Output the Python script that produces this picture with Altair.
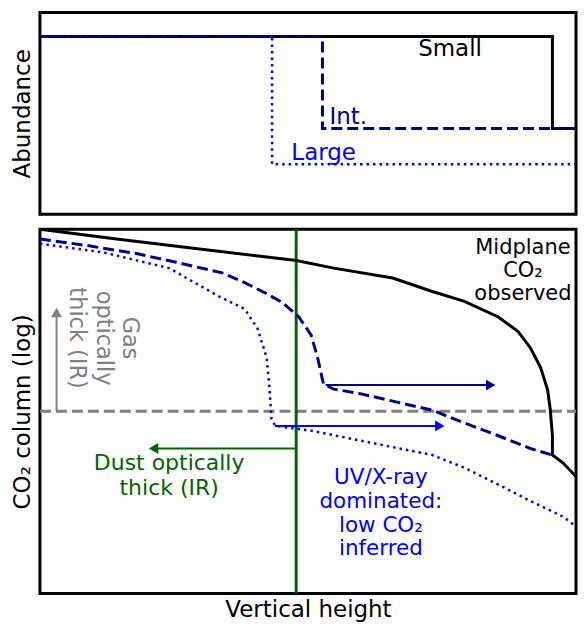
import altair as alt
import pandas as pd

FONT = "DejaVu Sans"
NAVY = "#00008B"
BLUE = "#0000FF"
GREEN = "#006400"
GRAY = "#808080"

# ---------------- top panel (Abundance) ----------------
top_small_x = [0, 95.6, 95.6, 100]
top_small_y = [88.1, 88.1, 42.5, 42.5]
top_int_x = [0, 52.7, 52.7, 100]
top_int_y = [88.1, 88.1, 42.5, 42.5]
top_large_x = [0, 43.3, 43.3, 100]
top_large_y = [88.1, 88.1, 24.8, 24.8]

top_label_text = ["Small", "Int.", "Large"]
top_label_x = [76.5, 54.0, 46.9]
top_label_y = [81.7, 48.0, 30.2]

# ---------------- bottom panel (CO2 column) ----------------
bot_small_x = [0, 14.3, 29.0, 47.8, 54.8, 65.8, 73.2, 79.2, 85.5, 89.2, 91.5,
               93.4, 94.7, 95.2, 95.6, 95.6, 97.6, 100]
bot_small_y = [100, 97.3, 94.7, 91.4, 89.3, 86.6, 82.9, 80.2, 75.9, 71.9, 67.4,
               62.0, 55.9, 50.5, 43.3, 38.0, 35.8, 32.1]
bot_int_x = [0, 8.8, 18.0, 25.4, 34.0, 38.2, 41.9, 45.2, 48.3, 50.6, 51.8, 52.6,
             52.9, 54.8, 59.9, 73.2, 79.2, 85.5, 91.5, 95.6]
bot_int_y = [97.3, 95.5, 93.3, 90.9, 88.0, 85.3, 82.6, 79.9, 75.9, 70.9, 64.7, 59.4,
             57.5, 56.1, 54.8, 50.3, 46.8, 43.3, 39.8, 38.0]
bot_large_x = [0, 11.9, 24.1, 33.3, 38.2, 40.6, 42.3, 42.8, 43.2, 43.9, 50.6, 59.7,
               73.2, 79.2, 85.5, 91.5, 97.6, 100]
bot_large_y = [96.0, 93.6, 89.3, 81.6, 78.1, 72.7, 64.7, 56.7, 47.9, 46.0, 44.7, 42.0,
               38.0, 34.5, 29.9, 25.4, 21.1, 18.4]

gas_threshold_y = 50.0
dust_height_x = 47.8

# arrows: (x_start, y_start, x_tip, y_tip)
arrow_gas = [3.1, 50.0, 3.1, 78.6]
arrow_dust = [47.8, 39.8, 20.2, 39.8]
arrow_int = [53.3, 57.2, 85.1, 57.2]
arrow_large = [43.8, 46.0, 75.6, 46.0]

bot_text = ["Midplane\nCO\u2082\nobserved",
            "Dust optically\nthick (IR)",
            "UV/X-ray\ndominated:\nlow CO\u2082\ninferred"]
bot_text_x = [90.1, 24.1, 63.6]
bot_text_y = [94.7, 35.8, 31.8]
bot_text_color = ["black", GREEN, BLUE]
bot_text_size = [21, 22, 21.5]
bot_text_lh = [23, 24.5, 24]

gas_text = "Gas\noptically\nthick (IR)"
gas_text_x = 16.8
gas_text_y = 70.1


def sc():
    return alt.Scale(domain=[0, 100], nice=False, zero=False)


AX = dict(labels=False, ticks=False, domain=False, grid=False)

X_top = alt.X("x:Q", scale=sc(), axis=None)
Y_top = alt.Y("y:Q", scale=sc(), axis=alt.Axis(title="Abundance", titlePadding=5, **AX))
X_bot = alt.X("x:Q", scale=sc(), axis=alt.Axis(title="Vertical height", titlePadding=5, **AX))
Y_bot = alt.Y("y:Q", scale=sc(), axis=alt.Axis(title="CO\u2082 column (log)", titlePadding=5, **AX))


def line(xs, ys, X, Y, color, width, dash=None):
    df = pd.DataFrame({"x": xs, "y": ys, "o": list(range(len(xs)))})
    kw = dict(color=color, strokeWidth=width, clip=True)
    if dash:
        kw["strokeDash"] = dash
    return alt.Chart(df).mark_line(**kw).encode(x=X, y=Y, order="o:Q")


DASH = [11, 5]
DOT = [2.5, 4]

# top panel
top_layers = [
    line(top_small_x, top_small_y, X_top, Y_top, "black", 3),
    line(top_large_x, top_large_y, X_top, Y_top, BLUE, 2.5, DOT),
    line(top_int_x, top_int_y, X_top, Y_top, NAVY, 3, DASH),
]
for t, x, y, c, al in zip(top_label_text, top_label_x, top_label_y,
                          ["black", NAVY, BLUE], ["center", "left", "left"]):
    top_layers.append(
        alt.Chart(pd.DataFrame({"x": [x], "y": [y], "t": [t]}))
        .mark_text(font=FONT, fontSize=23, color=c, align=al, baseline="middle")
        .encode(x=X_top, y=Y_top, text="t:N")
    )
top = alt.layer(*top_layers).properties(width=537, height=202)


def arrow(a, color, shape, X, Y, width=2):
    x0, y0, x1, y1 = a
    # head center slightly behind tip
    if x1 != x0:
        d = 1.0 if x1 > x0 else -1.0
        hx, hy = x1 - d, y1
    else:
        d = 1.45 if y1 > y0 else -1.45
        hx, hy = x1, y1 - d
    shaft = alt.Chart(pd.DataFrame({"x": [x0], "y": [y0], "x2": [hx], "y2": [hy]})).mark_rule(
        color=color, strokeWidth=width).encode(x=X, y=Y, x2="x2:Q", y2="y2:Q")
    head = alt.Chart(pd.DataFrame({"x": [hx], "y": [hy]})).mark_point(
        shape=shape, filled=True, color=color, opacity=1, size=120).encode(x=X, y=Y)
    return [shaft, head]


bot_layers = [
    alt.Chart(pd.DataFrame({"x": [0], "x2": [100], "y": [gas_threshold_y]})).mark_rule(
        color=GRAY, strokeWidth=3, strokeDash=DASH).encode(x=X_bot, x2="x2:Q", y=Y_bot),
    alt.Chart(pd.DataFrame({"x": [dust_height_x], "y": [0], "y2": [100]})).mark_rule(
        color=GREEN, strokeWidth=3).encode(x=X_bot, y=Y_bot, y2="y2:Q"),
    line(bot_small_x, bot_small_y, X_bot, Y_bot, "black", 3),
    line(bot_large_x, bot_large_y, X_bot, Y_bot, BLUE, 2.5, DOT),
    line(bot_int_x, bot_int_y, X_bot, Y_bot, NAVY, 3, DASH),
]
bot_layers += arrow(arrow_gas, GRAY, "triangle-up", X_bot, Y_bot)
bot_layers += arrow(arrow_dust, GREEN, "triangle-left", X_bot, Y_bot)
bot_layers += arrow(arrow_int, NAVY, "triangle-right", X_bot, Y_bot)
bot_layers += arrow(arrow_large, BLUE, "triangle-right", X_bot, Y_bot)

for t, x, y, c, fs, lh in zip(bot_text, bot_text_x, bot_text_y, bot_text_color,
                              bot_text_size, bot_text_lh):
    bot_layers.append(
        alt.Chart(pd.DataFrame({"x": [x], "y": [y], "t": [t]}))
        .mark_text(font=FONT, fontSize=fs, color=c, align="center", baseline="middle",
                   lineBreak="\n", lineHeight=lh)
        .encode(x=X_bot, y=Y_bot, text="t:N")
    )
bot_layers.append(
    alt.Chart(pd.DataFrame({"x": [gas_text_x], "y": [gas_text_y], "t": [gas_text]}))
    .mark_text(font=FONT, fontSize=22.5, color=GRAY, align="center", baseline="middle",
               lineBreak="\n", lineHeight=26.5, angle=90)
    .encode(x=X_bot, y=Y_bot, text="t:N")
)
bottom = alt.layer(*bot_layers).properties(width=537, height=365)

chart = (
    alt.vconcat(top, bottom, spacing=10)
    .properties(padding={"left": 2, "top": 2, "right": 0, "bottom": 0})
    .configure_view(stroke="black", strokeWidth=3)
    .configure_axis(titleFont=FONT, titleFontSize=23, titleFontWeight="normal",
                    titleColor="black")
)

chart.save("out.html", embed_options={"renderer": "svg", "actions": False})
